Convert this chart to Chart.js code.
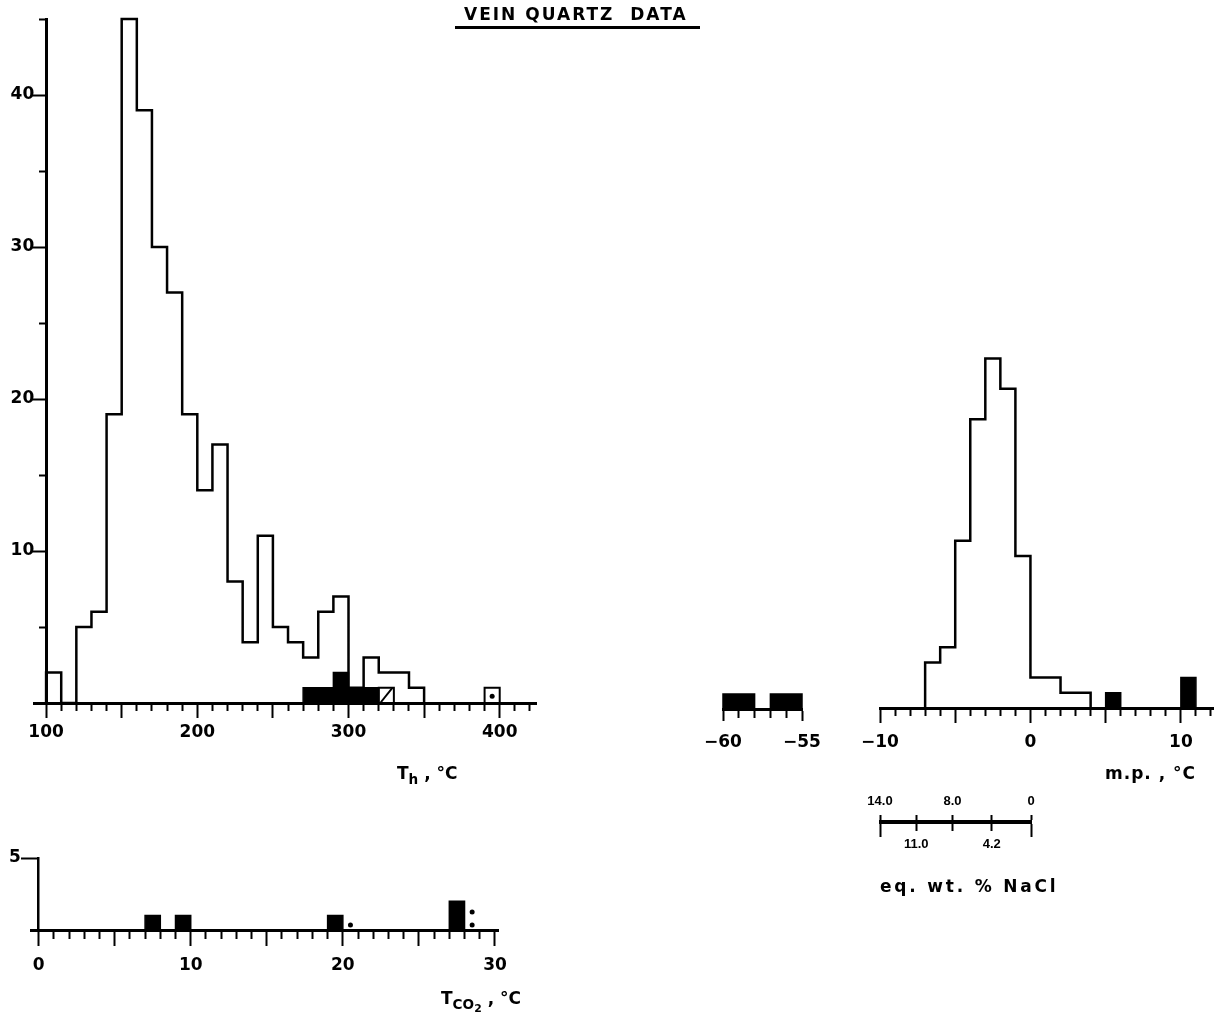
<!DOCTYPE html>
<html>
<head>
<meta charset="utf-8">
<script src="https://cdn.jsdelivr.net/npm/chart.js@4.4.1/dist/chart.umd.min.js"></script>
<style>
  html, body { margin:0; padding:0; background:#fff; }
  #fig { position:relative; width:1220px; height:1023px; overflow:hidden; background:#fff; }
  #fig canvas { position:absolute; left:0; top:0; }
  .txt { position:absolute; font-family:'DejaVu Sans', sans-serif; font-weight:bold; color:#000; white-space:pre; line-height:1; }
  .sb { font-size:0.8em; position:relative; top:5px; }
  .sb2 { font-size:0.8em; position:relative; top:3px; }
</style>
</head>
<body>
<div id="fig">
  <canvas id="thChart" width="1220" height="1023"></canvas>
  <canvas id="co2Chart" width="1220" height="1023"></canvas>
  <canvas id="lowChart" width="1220" height="1023"></canvas>
  <canvas id="mpChart" width="1220" height="1023"></canvas>
  <canvas id="naclChart" width="1220" height="1023"></canvas>

  <div class="txt" style="left:464px;top:6px;font-size:17px;letter-spacing:2px">VEIN QUARTZ&nbsp; DATA</div>
  <div style="position:absolute;left:455px;top:26px;width:245px;height:3px;background:#000"></div>
  <div class="txt" style="left:397px;top:765px;font-size:17px">T<span class="sb">h</span> , °C</div>
  <div class="txt" style="left:1105px;top:765px;font-size:17px;letter-spacing:1px">m.p. , °C</div>
  <div class="txt" style="left:441px;top:990px;font-size:17px">T<span class="sb">CO<span class="sb2">2</span></span> , °C</div>
  <div class="txt" style="left:880px;top:878px;font-size:17px;letter-spacing:2.8px">eq. wt. % NaCl</div>
</div>
<script>
// Th histogram (10 °C bins, bin start values)
const thBins = [100,110,120,130,140,150,160,170,180,190,200,210,220,230,240,250,260,270,280,290,300,310,320,330,340];
const thCounts = [2,0,5,6,19,45,39,30,27,19,14,17,8,4,11,5,4,3,6,7,1,3,2,2,1];
const thSolidBins = [270,280,290,300,310];
const thSolidCounts = [1,1,2,1,1];
const thHatchBins = [320];
const thHatchCounts = [1];
const thOpenBins = [390];
const thOpenCounts = [1];
const thDotX = [395];
const thDotY = [0.45];

// T CO2 histogram (1 °C bins)
const co2Bins = [7,9,19,27];
const co2Counts = [1,1,1,2];
const co2DotX = [20.5,28.5,28.5];
const co2DotY = [0.35,1.25,0.35];

// first melting, -60 .. -55
const lowBins = [-60,-57];
const lowWidths = [2,2];
const lowCounts = [1,1];

// m.p. histogram (1 °C bins)
const mpBins = [-7,-6,-5,-4,-3,-2,-1,0,1,2,3];
const mpCounts = [3,4,11,19,23,21,10,2,2,1,1];
const mpSolidBins = [5,10];
const mpSolidCounts = [1,2];

// salinity scale: wt.% NaCl against m.p.
const naclTempC = [-10,-7.6,-5.2,-2.6,0];
const naclWt = ['14.0','11.0','8.0','4.2','0'];

const range = (a, b, s) => { const r = []; for (let v = a; v <= b + 1e-9; v += s) r.push(v); return r; };
const thXTicks = range(100, 420, 10);
const thYTicks = range(5, 45, 5);
const co2XTicks = range(0, 30, 1);
const lowXTicks = range(-60, -55, 1);
const mpXTicks = range(-10, 12, 1);

Chart.defaults.color = '#000';
Chart.defaults.font.family = 'DejaVu Sans';

// histogram outline as a stepped path
function steps(bins, counts, width) {
  const w = Array.isArray(width) ? width : bins.map(() => width);
  const pts = [];
  bins.forEach((b, i) => {
    if (i === 0) pts.push({x: b, y: 0});
    else {
      const prevEnd = bins[i-1] + w[i-1];
      if (prevEnd !== b) { pts.push({x: prevEnd, y: 0}); pts.push({x: b, y: 0}); }
    }
    pts.push({x: b, y: counts[i]});
  });
  const n = bins.length - 1;
  pts.push({x: bins[n] + w[n], y: 0});
  return pts;
}
const stepLine = (data, extra) => Object.assign({data, stepped: 'before', borderColor: '#000', borderWidth: 2.5,
  pointRadius: 0, fill: false, clip: false, borderJoinStyle: 'miter'}, extra);
const solid = (data) => stepLine(data, {fill: 'origin', backgroundColor: '#000', borderWidth: 1.5});
const dots = (xs, ys) => ({data: xs.map((x, i) => ({x, y: ys[i]})), showLine: false, pointRadius: 2.5,
  pointBackgroundColor: '#000', pointBorderWidth: 0, clip: false});

const bold = (size, family) => ({family: family || 'DejaVu Sans', size, weight: 'bold'});
// y labels sit on the axis line when the axis is placed at a value, so pad them on the right
const padRight = (s, n) => s + ' '.repeat(n);

function xAxis(o) {
  return {
    type: 'linear', position: 'bottom', min: o.min, max: o.max,
    afterBuildTicks: s => { s.ticks = o.ticks.map(v => ({value: v})); },
    afterFit: s => { s.height = o.height; },
    border: {display: true, color: '#000', width: 3},
    grid: {display: true, drawOnChartArea: false, drawTicks: true, tickLength: o.tickLength, tickWidth: 2, tickColor: '#000',
      tickBorderDash: c => (c.tick && o.isMajor(c.tick.value)) ? [] : [o.minorLength, 100]},
    ticks: {autoSkip: false, maxRotation: 0, minRotation: 0, padding: o.padding, color: '#000', font: bold(17), callback: o.label}
  };
}

function baseOptions(padding, scales) {
  return {
    responsive: false, animation: false, events: [],
    layout: {padding},
    plugins: {legend: {display: false}, tooltip: {enabled: false}},
    scales
  };
}

// main Th chart
new Chart(document.getElementById('thChart'), {
  type: 'line',
  data: {datasets: [
    stepLine(steps(thBins, thCounts, 10)),
    solid(steps(thSolidBins, thSolidCounts, 10)),
    stepLine(steps(thHatchBins, thHatchCounts, 10), {borderWidth: 2}),
    {data: [{x: thHatchBins[0] + 1, y: 0}, {x: thHatchBins[0] + 9, y: thHatchCounts[0]}], borderColor: '#000', borderWidth: 2, pointRadius: 0, clip: false},
    stepLine(steps(thOpenBins, thOpenCounts, 10), {borderWidth: 2}),
    dots(thDotX, thDotY)
  ]},
  options: baseOptions({left: 34, right: 684, top: 19, bottom: 275}, {
    x: xAxis({min: 92, max: 424, ticks: thXTicks, height: 45, tickLength: 15, minorLength: 6, padding: 4,
      isMajor: v => v % 50 === 0, label: v => v % 100 === 0 ? String(v) : ''}),
    y: {
      type: 'linear', position: {x: 100}, min: 0, max: 45,
      afterBuildTicks: s => { s.ticks = thYTicks.map(v => ({value: v})); },
      border: {display: true, color: '#000', width: 3},
      grid: {drawOnChartArea: false, tickLength: 14, tickWidth: 2, tickColor: '#000',
        tickBorderDash: c => (c.tick && c.tick.value % 10 === 0) ? [] : [6, 100]},
      ticks: {padding: 1, color: '#000', font: bold(17), callback: v => v % 10 === 0 ? padRight(String(v), 2) : ''}
    }
  })
});

// T CO2 chart
new Chart(document.getElementById('co2Chart'), {
  type: 'line',
  data: {datasets: [
    solid(steps(co2Bins, co2Counts, 1)),
    dots(co2DotX, co2DotY)
  ]},
  options: baseOptions({left: 31, right: 722, top: 858, bottom: 53}, {
    x: xAxis({min: -0.5, max: 30.2, ticks: co2XTicks, height: 40, tickLength: 16, minorLength: 7, padding: 9,
      isMajor: v => v % 5 === 0, label: v => v % 10 === 0 ? String(v) : ''}),
    y: {
      type: 'linear', position: {x: 0}, min: 0, max: 5,
      afterBuildTicks: s => { s.ticks = [{value: 5}]; },
      border: {display: true, color: '#000', width: 2.5},
      grid: {drawOnChartArea: false, tickLength: 16, tickWidth: 2, tickColor: '#000'},
      ticks: {padding: 1, color: '#000', font: bold(17), callback: v => padRight(String(v), 3)}
    }
  })
});

// -60 .. -55 chart
new Chart(document.getElementById('lowChart'), {
  type: 'line',
  data: {datasets: [solid(steps(lowBins, lowCounts, lowWidths))]},
  options: baseOptions({left: 723, right: 418, top: 679, bottom: 269}, {
    x: xAxis({min: -60, max: -55, ticks: lowXTicks, height: 45, tickLength: 12, minorLength: 7, padding: 11,
      isMajor: v => v === -60 || v === -55, label: v => v === -60 ? '\u221260' : v === -55 ? '\u221255' : ''}),
    y: {display: false, min: 0, max: 2}
  })
});

// m.p. chart
new Chart(document.getElementById('mpChart'), {
  type: 'line',
  data: {datasets: [
    stepLine(steps(mpBins, mpCounts, 1)),
    solid(steps(mpSolidBins, mpSolidCounts, 1))
  ]},
  options: baseOptions({left: 880, right: 3, top: 328, bottom: 270}, {
    x: xAxis({min: -10, max: 12.2, ticks: mpXTicks, height: 45, tickLength: 15, minorLength: 6, padding: 9,
      isMajor: v => v % 5 === 0, label: v => v === -10 ? '\u221210' : (v === 0 || v === 10) ? String(v) : ''}),
    y: {display: false, min: 0, max: 25}
  })
});

// wt.% NaCl scale
new Chart(document.getElementById('naclChart'), {
  type: 'line',
  data: {datasets: []},
  options: baseOptions({left: 880, right: 189, top: 793, bottom: 170}, {
    x: {
      type: 'linear', position: 'bottom', min: -10, max: 0,
      afterBuildTicks: s => { s.ticks = naclTempC.map(v => ({value: v})); },
      afterFit: s => { s.height = 30; },
      border: {display: true, color: '#000', width: 2},
      grid: {drawOnChartArea: false, tickLength: 14, tickWidth: 2, tickColor: '#000',
        tickBorderDash: c => (c.index === 0 || c.index === naclTempC.length - 1) ? [] : [7, 100]},
      ticks: {autoSkip: false, maxRotation: 0, padding: 0, color: '#000', font: bold(13, 'Liberation Sans'),
        callback: (v, i) => i % 2 === 1 ? naclWt[i] : ''}
    },
    xTop: {
      type: 'linear', axis: 'x', position: 'top', min: -10, max: 0,
      afterBuildTicks: s => { s.ticks = naclTempC.map(v => ({value: v})); },
      afterFit: s => { s.height = 28; },
      border: {display: true, color: '#000', width: 2},
      grid: {drawOnChartArea: false, tickLength: 6, tickWidth: 2, tickColor: '#000'},
      ticks: {autoSkip: false, maxRotation: 0, padding: 6, color: '#000', font: bold(13, 'Liberation Sans'),
        callback: (v, i) => i % 2 === 0 ? naclWt[i] : ''}
    },
    y: {display: false, min: 0, max: 1}
  })
});
</script>
</body>
</html>
